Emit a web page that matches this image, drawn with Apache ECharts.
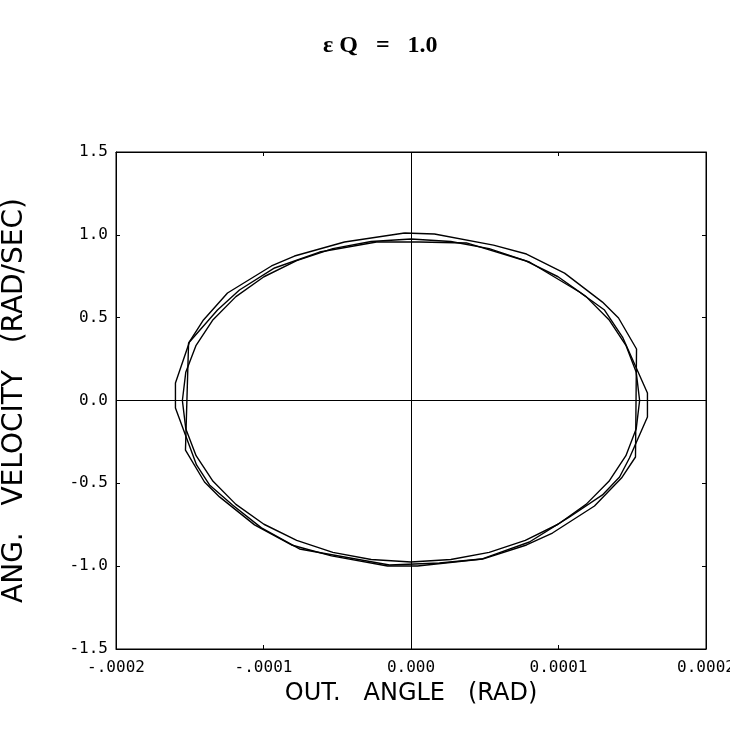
<!DOCTYPE html>
<html>
<head>
<meta charset="utf-8">
<script src="https://cdn.jsdelivr.net/npm/echarts@6/dist/echarts.min.js"></script>
<style>
  html, body { margin: 0; padding: 0; background: #fff; }
  #main { width: 730px; height: 740px; }
</style>
</head>
<body>
<div id="main"></div>
<script>
// x values are in units of 1e-4 rad, y values in rad/sec
var xTickLabels = ['-.0002', '-.0001', '0.000', '0.0001', '0.0002'];

// trace 1 (the smooth one)
var t1X = [1.55, 1.527, 1.457, 1.342, 1.187, 0.997, 0.775, 0.530, 0.270, 0.0, -0.270, -0.530, -0.775, -0.997, -1.187, -1.342, -1.457, -1.527,
           -1.55, -1.527, -1.457, -1.342, -1.187, -0.997, -0.775, -0.530, -0.270, 0.0, 0.270, 0.530, 0.775, 0.997, 1.187, 1.342, 1.457, 1.527, 1.55];
var t1Y = [0.0, 0.170, 0.333, 0.488, 0.627, 0.747, 0.844, 0.917, 0.960, 0.975, 0.960, 0.917, 0.844, 0.747, 0.627, 0.488, 0.333, 0.170,
           0.0, -0.170, -0.333, -0.488, -0.627, -0.747, -0.844, -0.917, -0.960, -0.975, -0.960, -0.917, -0.844, -0.747, -0.627, -0.488, -0.333, -0.170, 0.0];

// trace 2
var t2X = [-0.044, 0.159, 0.559, 0.783, 1.041, 1.298, 1.407, 1.529, 1.522, 1.427, 1.244, 0.959, 0.783, 0.485, 0.044, -0.159, -0.539, -0.810,
           -1.061, -1.298, -1.400, -1.529, -1.508, -1.407, -1.244, -0.946, -0.790, -0.451, -0.044];
var t2Y = [1.011, 1.005, 0.938, 0.884, 0.769, 0.594, 0.498, 0.311, -0.341, -0.468, -0.637, -0.800, -0.872, -0.957, -0.999, -0.999, -0.938, -0.872,
           -0.751, -0.582, -0.492, -0.299, 0.347, 0.486, 0.649, 0.812, 0.872, 0.957, 1.011];

// trace 3
var t3X = [0.058, 0.376, 0.803, 1.142, 1.312, 1.434, 1.603, 1.603, 1.481, 1.414, 1.298, 1.075, 0.803, 0.478, 0.193, -0.146, -0.756, -1.014,
           -1.210, -1.366, -1.454, -1.597, -1.597, -1.502, -1.312, -1.163, -0.925, -0.620, -0.234, 0.058];
var t3Y = [0.957, 0.951, 0.836, 0.655, 0.546, 0.383, 0.045, -0.100, -0.347, -0.462, -0.570, -0.703, -0.854, -0.957, -0.981, -0.993, -0.896, -0.769,
           -0.631, -0.510, -0.389, -0.045, 0.106, 0.353, 0.546, 0.667, 0.800, 0.896, 0.957, 0.957];

function pairs(xs, ys) {
    var out = [];
    for (var i = 0; i < xs.length; i++) out.push([xs[i], ys[i]]);
    return out;
}

var myChart = echarts.init(document.getElementById('main'));

var tickFont = {fontFamily: 'DejaVu Sans Mono', fontSize: 16, color: '#000'};
var traceStyle = {color: '#000', width: 1.4};

function trace(xs, ys) {
    return {
        type: 'line',
        data: pairs(xs, ys),
        showSymbol: false,
        symbol: 'none',
        smooth: false,
        silent: true,
        lineStyle: traceStyle
    };
}

var series = [trace(t1X, t1Y), trace(t2X, t2Y), trace(t3X, t3Y)];
// zero lines through the plot
series[0].markLine = {
    silent: true,
    symbol: ['none', 'none'],
    label: {show: false},
    lineStyle: {color: '#000', width: 1, type: 'solid'},
    data: [{xAxis: 0}, {yAxis: 0}]
};

var option = {
    animation: false,
    backgroundColor: '#fff',
    title: {
        text: 'ε Q   =   1.0',
        left: 318,
        top: 29,
        textStyle: {fontFamily: 'Liberation Serif', fontWeight: 'bold', fontSize: 24, color: '#000'}
    },
    grid: {
        left: 116,
        right: 24,
        top: 152,
        bottom: 91,
        outerBoundsMode: 'none',
        containLabel: false,
        show: true,
        borderColor: '#000',
        borderWidth: 1
    },
    xAxis: [
        {
            type: 'value',
            min: -2,
            max: 2,
            interval: 1,
            name: 'OUT.   ANGLE   (RAD)',
            nameLocation: 'middle',
            nameGap: 33,
            nameTextStyle: {fontFamily: 'DejaVu Sans', fontSize: 24, color: '#000'},
            axisLine: {onZero: false, lineStyle: {color: '#000'}},
            axisTick: {inside: true, length: 4, lineStyle: {color: '#000'}},
            axisLabel: {
                margin: 11,
                formatter: function (v) { return xTickLabels[Math.round(v) + 2]; },
                ...tickFont
            },
            splitLine: {show: false}
        },
        {
            type: 'value',
            position: 'top',
            min: -2,
            max: 2,
            interval: 1,
            axisLine: {onZero: false, lineStyle: {color: '#000'}},
            axisTick: {inside: true, length: 4, lineStyle: {color: '#000'}},
            axisLabel: {show: false},
            splitLine: {show: false}
        }
    ],
    yAxis: [
        {
            type: 'value',
            min: -1.5,
            max: 1.5,
            interval: 0.5,
            name: 'ANG.   VELOCITY   (RAD/SEC)',
            nameLocation: 'middle',
            nameGap: 87,
            nameRotate: 90,
            nameTextStyle: {fontFamily: 'DejaVu Sans', fontSize: 28, color: '#000'},
            axisLine: {onZero: false, lineStyle: {color: '#000'}},
            axisTick: {inside: true, length: 4, lineStyle: {color: '#000'}},
            axisLabel: {
                margin: 8,
                formatter: function (v) { return v.toFixed(1); },
                ...tickFont
            },
            splitLine: {show: false}
        },
        {
            type: 'value',
            position: 'right',
            min: -1.5,
            max: 1.5,
            interval: 0.5,
            axisLine: {onZero: false, lineStyle: {color: '#000'}},
            axisTick: {inside: true, length: 4, lineStyle: {color: '#000'}},
            axisLabel: {show: false},
            splitLine: {show: false}
        }
    ],
    series: series
};

myChart.setOption(option);
</script>
</body>
</html>
